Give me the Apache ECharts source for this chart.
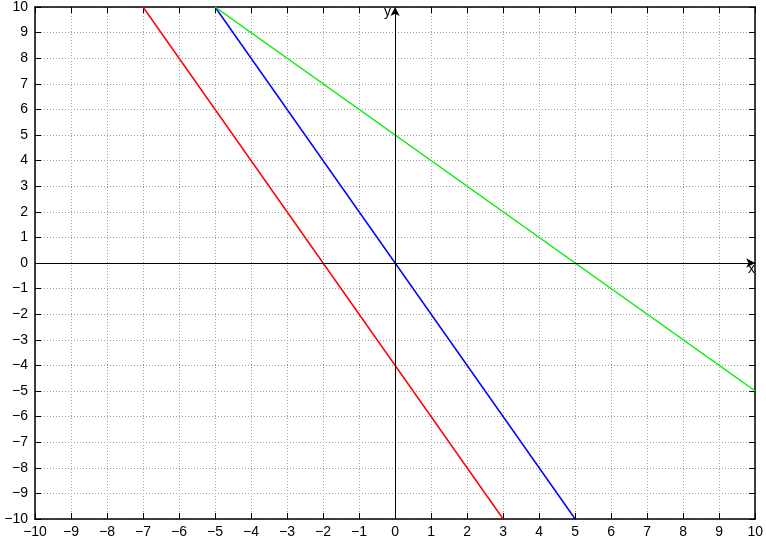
<!DOCTYPE html>
<html><head><meta charset="utf-8">
<script src="https://cdn.jsdelivr.net/npm/echarts@6/dist/echarts.min.js"></script>
<style>html,body{margin:0;padding:0;background:#fff}#c{width:766px;height:542px}</style>
</head><body><div id="c"></div>
<script>
const xRange = [-10, 10];
const yRange = [-10, 10];
const redX = [-7, 3], redY = [10, -10];
const blueX = [-5, 5], blueY = [10, -10];
const greenX = [-5, 10], greenY = [10, -5];

const pts = (xs, ys) => xs.map((x, i) => [x, ys[i]]);
const fmt = v => String(v).replace('-', '\u2212');
const font = 'Liberation Sans, Arial, sans-serif';

const baseAxis = (pos, isX, labels) => ({
  type: 'value', position: pos, min: isX ? xRange[0] : yRange[0], max: isX ? xRange[1] : yRange[1], interval: 1,
  axisLine: { show: true, onZero: false, lineStyle: { color: '#000', width: 1.5 } },
  axisTick: { show: true, inside: true, length: 6, lineStyle: { color: '#000', width: 1 } },
  axisLabel: labels ? { show: true, formatter: fmt, color: '#000', fontSize: 14, fontFamily: font, margin: isX ? 6 : 7 } : { show: false },
  splitLine: labels ? { show: true, lineStyle: { color: '#a0a0a0', type: [1, 2], width: 1 } } : { show: false }
});

const chart = echarts.init(document.getElementById('c'), null, { renderer: 'canvas' });
chart.setOption({
  animation: false,
  backgroundColor: '#fff',
  grid: { left: 35, right: 9, top: 6, bottom: 23 },
  xAxis: [baseAxis('bottom', true, true), baseAxis('top', true, false)],
  yAxis: [baseAxis('left', false, true), baseAxis('right', false, false)],
  series: [
    {
      type: 'line', data: [], silent: true,
      markLine: {
        silent: true, symbol: ['none', 'arrow'], symbolSize: [7, 9], animation: false,
        label: { show: false },
        lineStyle: { color: '#000', width: 1, type: 'solid' },
        data: [
          [{ coord: [xRange[0], 0] }, { coord: [xRange[1], 0] }],
          [{ coord: [0, yRange[0]] }, { coord: [0, yRange[1]] }]
        ]
      }
    },
    { type: 'line', data: pts(redX, redY), symbol: 'none', lineStyle: { color: '#ff0000', width: 1.5 }, itemStyle: { color: '#ff0000' } },
    { type: 'line', data: pts(blueX, blueY), symbol: 'none', lineStyle: { color: '#0000ff', width: 1.5 }, itemStyle: { color: '#0000ff' } },
    { type: 'line', data: pts(greenX, greenY), symbol: 'none', lineStyle: { color: '#00ee00', width: 1.5 }, itemStyle: { color: '#00ee00' } }
  ],
  graphic: [
    { type: 'text', left: 384, top: 5, style: { text: 'y', font: '14px ' + font, fill: '#000' } },
    { type: 'text', left: 748, top: 262, style: { text: 'x', font: '14px ' + font, fill: '#000' } }
  ]
});
</script></body></html>
